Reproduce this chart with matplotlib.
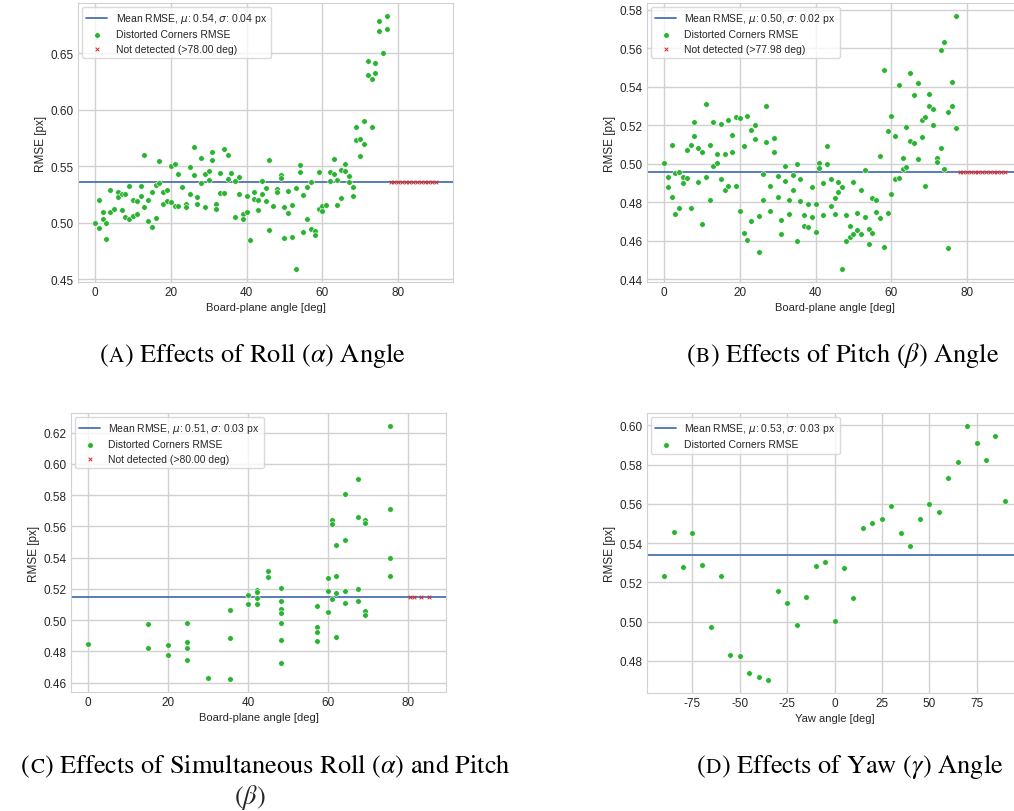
import matplotlib
matplotlib.use("Agg")
import matplotlib.pyplot as plt
import matplotlib.ticker as mticker
import seaborn as sns

# ---- Roll sweep (A) ----
roll_angle = [0, 1, 1, 2, 2, 3, 3, 4, 4, 5, 6, 6, 7, 7, 8, 8, 9, 9, 10, 10,
              11, 11, 12, 12, 13, 13, 14, 14, 15, 15, 16, 16, 17, 17, 18, 18,
              19, 19, 20, 20, 21, 21, 22, 22, 23, 24, 24, 25, 25, 26, 26, 27, 27,
              28, 28, 29, 29, 30, 30, 31, 31, 32, 32, 33, 33, 34, 34, 35, 35, 36,
              37, 37, 38, 38, 39, 39, 40, 40, 41, 42, 42, 43, 43, 44, 44, 45, 45,
              46, 46, 47, 48, 48, 49, 49, 50, 50, 51, 51, 52, 52, 53, 53, 54, 54,
              55, 55, 56, 56, 57, 57, 58, 58, 59, 59, 60, 60, 61, 62, 62, 63, 63,
              64, 64, 65, 65, 66, 66, 67, 67, 68, 68, 69, 69, 70, 70, 71, 71, 72,
              72, 73, 73, 74, 74, 75, 75, 76, 77, 77]
roll_rmse = [0.500, 0.4956, 0.520, 0.5094, 0.5035, 0.500, 0.4856, 0.5291, 0.5094,
             0.5118, 0.5276, 0.5232, 0.5256, 0.5112, 0.5256, 0.505, 0.5326, 0.5032,
             0.5206, 0.5062, 0.5194, 0.5082, 0.5329, 0.5235, 0.5603, 0.5138, 0.520,
             0.5015, 0.5271, 0.4959, 0.5338, 0.5044, 0.5544, 0.5353, 0.5271, 0.5168,
             0.5288, 0.5191, 0.5506, 0.5182, 0.552, 0.5153, 0.5429, 0.5153, 0.5318,
             0.5168, 0.5138, 0.5494, 0.5259, 0.5674, 0.5424, 0.5226, 0.5165, 0.5574,
             0.535, 0.5435, 0.5144, 0.5459, 0.5382, 0.5624, 0.5553, 0.5171, 0.5124,
             0.5438, 0.5262, 0.5656, 0.5268, 0.5597, 0.5385, 0.5441, 0.5371, 0.5053,
             0.5406, 0.5256, 0.5079, 0.5038, 0.5241, 0.510, 0.4847, 0.5276, 0.5215,
             0.520, 0.5115, 0.5374, 0.5253, 0.5312, 0.5197, 0.5553, 0.4935, 0.5153,
             0.5297, 0.5274, 0.5426, 0.5397, 0.5141, 0.4868, 0.5282, 0.5085, 0.5162,
             0.4876, 0.5312, 0.4588, 0.5515, 0.5453, 0.5247, 0.4921, 0.5318, 0.5038,
             0.5359, 0.4947, 0.4926, 0.4894, 0.5447, 0.5121, 0.515, 0.5109, 0.5159,
             0.545, 0.5374, 0.5562, 0.5435, 0.5376, 0.5159, 0.5465, 0.5218, 0.5524,
             0.5462, 0.5418, 0.5362, 0.5315, 0.5241, 0.5845, 0.5735, 0.5745, 0.5595,
             0.5905, 0.570, 0.643, 0.631, 0.627, 0.5845, 0.642, 0.6325, 0.679, 0.670,
             0.650, 0.6835, 0.672]
roll_missed = [78, 79, 80, 81, 82, 83, 84, 85, 86, 87, 88, 89, 90]
roll_limit = 78.00
roll_mean, roll_std = 0.536, 0.04

# ---- Pitch sweep (B) ----
pitch_angle = [0] + [a for a in range(1, 78) for _ in (0, 1)]
pitch_rmse = [0.5005,
              0.4934, 0.488, 0.510, 0.483, 0.495, 0.474, 0.496, 0.477, 0.493, 0.490,
              0.507, 0.4925, 0.510, 0.477, 0.5216, 0.5147, 0.508, 0.4905, 0.506, 0.469,
              0.531, 0.493, 0.510, 0.481, 0.522, 0.499, 0.505, 0.5005, 0.5206, 0.492,
              0.5053, 0.4864, 0.5227, 0.4883, 0.5152, 0.5062, 0.5244, 0.4883, 0.5237, 0.4755,
              0.5093, 0.4643, 0.525, 0.4606, 0.5175, 0.4701, 0.520, 0.5129, 0.4731, 0.4544,
              0.4949, 0.4814, 0.5303, 0.5112, 0.4887, 0.4757, 0.5133, 0.5063, 0.4937, 0.4828,
              0.471, 0.4637, 0.4991, 0.4911, 0.4814, 0.4738, 0.4942, 0.4863, 0.500, 0.4599,
              0.4921, 0.4807, 0.4733, 0.4679, 0.4793, 0.4672, 0.488, 0.4726, 0.479, 0.4646,
              0.5005, 0.498, 0.4899, 0.4734, 0.5091, 0.500, 0.4923, 0.4781, 0.4823, 0.4738,
              0.4906, 0.4856, 0.488, 0.4452, 0.4733, 0.4599, 0.4679, 0.462, 0.4904, 0.4634,
              0.4743, 0.4655, 0.4863, 0.4637, 0.497, 0.4722, 0.466, 0.4585, 0.4824, 0.4641,
              0.4812, 0.475, 0.5041, 0.4717, 0.5486, 0.4568, 0.5173, 0.4743, 0.525, 0.4845,
              0.5143, 0.492, 0.541, 0.4925, 0.5032, 0.4972, 0.5192, 0.4982, 0.5471, 0.5117,
              0.5358, 0.511, 0.542, 0.5025, 0.523, 0.514, 0.5245, 0.4883, 0.5365, 0.530,
              0.5287, 0.5202, 0.503, 0.5012, 0.5592, 0.5081, 0.5635, 0.4975, 0.5268, 0.4565,
              0.5427, 0.530, 0.577, 0.5188]
pitch_missed = [78, 79, 80, 81, 82, 83, 84, 85, 86, 87, 88, 89, 90]
pitch_limit = 77.98
pitch_mean, pitch_std = 0.496, 0.02

# ---- Simultaneous roll + pitch (C) ----
combo_angle = [0, 15, 15, 20, 20, 24.75, 24.75, 24.75, 24.75, 30, 35.5, 35.5, 35.5,
               40, 40, 42.25, 42.25, 42.25, 42.25, 45, 45,
               48.3, 48.3, 48.3, 48.3, 48.3, 48.3, 48.3,
               57.2, 57.2, 57.2, 57.2, 60, 60, 60, 61, 61, 61, 62, 62, 62, 62,
               64.3, 64.3, 64.3, 64.3, 67.5, 67.5, 67.5, 67.5,
               69.3, 69.3, 69.3, 69.3, 75.5, 75.5, 75.5, 75.5]
combo_rmse = [0.4847, 0.4978, 0.482, 0.4839, 0.4779, 0.4984, 0.4858, 0.482, 0.4743,
              0.4627, 0.5065, 0.4886, 0.4621, 0.5162, 0.5104, 0.5191, 0.518, 0.514,
              0.5102, 0.5315, 0.5275, 0.5204, 0.5123, 0.5074, 0.5046, 0.4984, 0.4871,
              0.4726, 0.5091, 0.4959, 0.4924, 0.4867, 0.5268, 0.5185, 0.5055, 0.564,
              0.5615, 0.5138, 0.5482, 0.5283, 0.5172, 0.4894, 0.5805, 0.5512, 0.5189,
              0.5112, 0.5903, 0.5662, 0.5198, 0.5123, 0.5638, 0.5625, 0.5059, 0.5033,
              0.6245, 0.5709, 0.5397, 0.5283]
combo_missed = [80.4, 81.5, 83.1, 85.2]
combo_limit = 80.00
combo_mean, combo_std = 0.5147, 0.03

# ---- Yaw sweep (D) ----
yaw_angle = list(range(-90, 91, 5))
yaw_rmse = [0.523, 0.5458, 0.5276, 0.5449, 0.5288, 0.497, 0.523, 0.4832, 0.4826,
            0.474, 0.4717, 0.4701, 0.5158, 0.5093, 0.4982, 0.5124, 0.5281, 0.5303,
            0.5003, 0.5274, 0.512, 0.5475, 0.5502, 0.5524, 0.5588, 0.5449, 0.5383,
            0.5523, 0.5598, 0.5559, 0.5732, 0.5813, 0.5998, 0.5908, 0.5824, 0.5947,
            0.5613]
yaw_mean, yaw_std = 0.5337, 0.03

GREEN = "#2bb232"
BLUE = "#4c72b0"
RED = "#d62728"

sns.set_style("whitegrid")
plt.rcParams["font.family"] = ["Liberation Sans", "DejaVu Sans"]
plt.rcParams["axes.unicode_minus"] = False

fig = plt.figure(figsize=(10.14, 8.12), dpi=100)
W, H = 1014.0, 812.0


def add_axes(left, top, right, bottom):
    return fig.add_axes([left / W, 1 - bottom / H, (right - left) / W, (bottom - top) / H])


def panel(ax, angle, rmse, mean, std, xlabel, ystep, xstep=20,
          missed=None, limit=None):
    ax.axhline(mean, color=BLUE, lw=1.3, zorder=2,
               label=rf"Mean RMSE, $\mu$: {mean:.2f}, $\sigma$: {std:.2f} px")
    ax.scatter(angle, rmse, s=16, color=GREEN, edgecolor="white", linewidth=0.4,
               zorder=3, label="Distorted Corners RMSE")
    if missed:
        ax.scatter(missed, [mean] * len(missed), marker="x", s=7, color=RED,
                   linewidth=0.7, zorder=4,
                   label=f"Not detected (>{limit:.2f} deg)")
    ax.set_xlabel(xlabel, fontsize=8, color=".15", labelpad=3)
    ax.set_ylabel("RMSE [px]", fontsize=8.5, color=".15", labelpad=3)
    ax.xaxis.set_major_locator(mticker.MultipleLocator(xstep))
    ax.yaxis.set_major_locator(mticker.MultipleLocator(ystep))
    ax.tick_params(labelsize=8.5, colors=".15", pad=3, length=0)
    for sp in ax.spines.values():
        sp.set_color(".82")
    ax.grid(color=".82", linewidth=1.0)
    ax.legend(loc="upper left", fontsize=7.5, frameon=True, framealpha=0.8,
              edgecolor=".82", borderpad=0.4, labelspacing=0.4,
              handletextpad=0.8, borderaxespad=0.4)


ax_a = add_axes(78, 4, 453, 283)
panel(ax_a, roll_angle, roll_rmse, roll_mean, roll_std,
      "Board-plane angle [deg]", 0.05, missed=roll_missed, limit=roll_limit)

ax_b = add_axes(647, 4, 1022, 283)
panel(ax_b, pitch_angle, pitch_rmse, pitch_mean, pitch_std,
      "Board-plane angle [deg]", 0.02, missed=pitch_missed, limit=pitch_limit)

ax_c = add_axes(71, 414, 446, 693)
panel(ax_c, combo_angle, combo_rmse, combo_mean, combo_std,
      "Board-plane angle [deg]", 0.02, missed=combo_missed, limit=combo_limit)

ax_d = add_axes(647, 414, 1022, 694)
panel(ax_d, yaw_angle, yaw_rmse, yaw_mean, yaw_std,
      "Yaw angle [deg]", 0.02, xstep=25)

# ---- sub-captions, small caps for the letter ----
CAP_SIZE = 19
renderer = fig.canvas.get_renderer()


def caption(xc, yb, letter, rest):
    pieces = [("(", 1.0), (letter, 0.8), (rest, 1.0)]
    texts = [fig.text(0, 1 - yb / H, s, fontsize=CAP_SIZE * k,
                      family="STIXGeneral", math_fontfamily="stix",
                      va="baseline", color="black")
             for s, k in pieces]
    widths = [t.get_window_extent(renderer).width / fig.bbox.width for t in texts]
    x = xc / W - sum(widths) / 2
    for t, w in zip(texts, widths):
        t.set_x(x)
        x += w


caption(253, 362, "A", r") Effects of Roll ($\alpha$) Angle")
caption(843, 362, "B", r") Effects of Pitch ($\beta$) Angle")
caption(266, 773, "C", r") Effects of Simultaneous Roll ($\alpha$) and Pitch")
fig.text(250 / W, 1 - 804 / H, r"($\beta$)", fontsize=CAP_SIZE,
         family="STIXGeneral", math_fontfamily="stix", ha="center", va="baseline")
caption(850, 773, "D", r") Effects of Yaw ($\gamma$) Angle")

fig.savefig("out.png", dpi=100)
